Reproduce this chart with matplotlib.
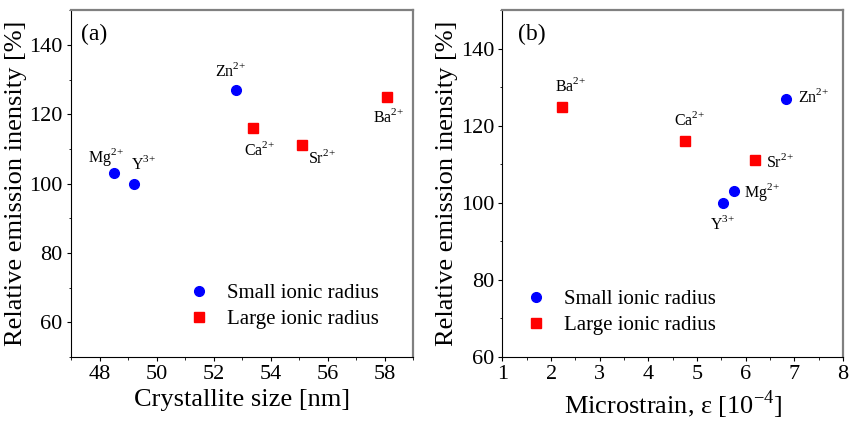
import matplotlib
matplotlib.use("Agg")
import matplotlib.pyplot as plt
from matplotlib.ticker import MultipleLocator

plt.rcParams['font.family'] = ['Liberation Serif', 'DejaVu Serif']
plt.rcParams['mathtext.fontset'] = 'custom'
plt.rcParams['mathtext.rm'] = 'Liberation Serif'

# ions, small ionic radius group
small_ions = ["Mg", "Y", "Zn"]
small_charge = ["2", "3", "2"]
small_size = [48.5, 49.2, 52.8]
small_strain = [5.75, 5.53, 6.83]
small_intensity = [103, 100, 127]

# ions, large ionic radius group
large_ions = ["Ca", "Sr", "Ba"]
large_charge = ["2", "2", "2"]
large_size = [53.4, 55.1, 58.1]
large_strain = [4.75, 6.18, 2.22]
large_intensity = [116, 111, 125]

# label offsets in points (dx, dy) for each panel
offs_a = {"Mg": (-5.5, 12), "Y": (7, 14), "Zn": (-3.8, 14), "Ca": (4.6, -16), "Sr": (14.4, -9), "Ba": (1, -14.5)}
offs_b = {"Mg": (20.4, -0.5), "Y": (-0.5, -15), "Zn": (19.5, 1), "Ca": (3.8, 15), "Sr": (18.5, -1), "Ba": (6.2, 14.5)}

fig = plt.figure(figsize=(8.56, 4.24), dpi=100)
ax_a = fig.add_axes([0.083, 0.158, 0.3995, 0.818])
ax_b = fig.add_axes([0.587, 0.158, 0.398, 0.818])


def style_axes(ax):
    for side in ("top", "right"):
        ax.spines[side].set_color("#808080")
        ax.spines[side].set_linewidth(1.6)
    for side in ("left", "bottom"):
        ax.spines[side].set_linewidth(0.8)
    ax.tick_params(which="both", direction="out", top=False, right=False, labelsize=16)
    ax.tick_params(which="major", length=3, pad=3)
    ax.tick_params(which="minor", length=1.8)


def draw_panel(ax, xs_small, xs_large, offs):
    ax.plot(xs_small, small_intensity, "o", color="blue", ms=7, ls="none", label="Small ionic radius")
    ax.plot(xs_large, large_intensity, "s", color="red", ms=6.5, ls="none", label="Large ionic radius")
    for ion, ch, x, y in zip(small_ions + large_ions, small_charge + large_charge,
                             xs_small + xs_large, small_intensity + large_intensity):
        ax.annotate(r"$\mathrm{%s}^{%s\!+}$" % (ion, ch), (x, y), xytext=offs[ion],
                    textcoords="offset points", ha="center", va="center", fontsize=11.5)


def add_legend(ax, x0, y0):
    ax.legend(loc="upper left", bbox_to_anchor=(x0, y0), frameon=False, fontsize=15,
              borderpad=0, borderaxespad=0, handletextpad=0.85, labelspacing=0.3,
              handlelength=1.0)


draw_panel(ax_a, small_size, large_size, offs_a)
ax_a.set_xlim(47, 59)
ax_a.set_ylim(50, 150)
ax_a.xaxis.set_major_locator(MultipleLocator(2))
ax_a.xaxis.set_minor_locator(MultipleLocator(1))
ax_a.set_yticks([60, 80, 100, 120, 140])
ax_a.yaxis.set_minor_locator(MultipleLocator(10))
ax_a.set_xlabel("Crystallite size [nm]", fontsize=19, labelpad=3)
ax_a.set_ylabel("Relative emission inensity [%]", fontsize=19, labelpad=2)
ax_a.text(0.03, 0.96, "(a)", transform=ax_a.transAxes, fontsize=17, va="top")
add_legend(ax_a, 0.344, 0.212)
style_axes(ax_a)

draw_panel(ax_b, small_strain, large_strain, offs_b)
ax_b.set_xlim(1, 8)
ax_b.set_ylim(60, 150)
ax_b.xaxis.set_major_locator(MultipleLocator(1))
ax_b.xaxis.set_minor_locator(MultipleLocator(0.5))
ax_b.set_yticks([60, 80, 100, 120, 140])
ax_b.yaxis.set_minor_locator(MultipleLocator(10))
ax_b.set_xlabel(r"Microstrain, ε [10$^{\mathrm{-4}}$]", fontsize=19, labelpad=3)
ax_b.set_ylabel("Relative emission inensity [%]", fontsize=19, labelpad=2)
ax_b.text(0.045, 0.96, "(b)", transform=ax_b.transAxes, fontsize=17, va="top")
add_legend(ax_b, 0.067, 0.195)
style_axes(ax_b)

fig.savefig("out.png", dpi=100)
